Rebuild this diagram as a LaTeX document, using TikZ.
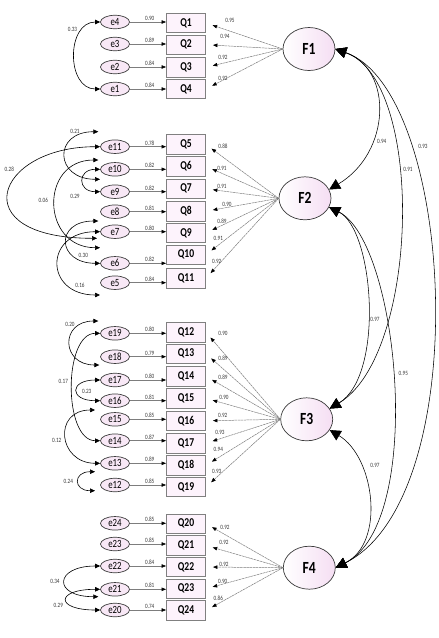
\documentclass[tikz,border=0pt]{standalone}
\usepackage{fontspec}
\setmainfont{Carlito}[FakeStretch=0.8]
\usetikzlibrary{arrows.meta,shapes.geometric}
\definecolor{pinkfill}{RGB}{248,232,246}
\definecolor{pinkdeep}{RGB}{245,222,243}
\definecolor{boxfill}{RGB}{253,243,252}
\definecolor{edgec}{RGB}{60,60,60}
\definecolor{lgray}{RGB}{125,125,125}
\definecolor{numc}{RGB}{55,55,55}
\begin{document}
\begin{tikzpicture}[x=1pt,y=-1pt,
  err/.style={ellipse,draw=edgec,line width=0.7pt,fill=pinkfill,minimum width=29pt,minimum height=13.5pt,inner sep=0pt,font=\fontsize{11}{11}\selectfont},
  item/.style={rectangle,draw=gray,line width=0.9pt,fill=boxfill,minimum width=39pt,minimum height=19.5pt,inner sep=0pt,font=\bfseries\fontsize{12}{12}\selectfont},
  fac/.style={ellipse,draw=edgec,line width=0.7pt,left color=white,right color=pinkdeep,minimum width=52pt,minimum height=43pt,inner sep=0pt,font=\bfseries\fontsize{17}{17}\selectfont},
  num/.style={font=\fontsize{6.5}{6.5}\selectfont,text=numc,inner sep=0.5pt},
  ebar/.style={draw=lgray,line width=0.55pt,-{Triangle[length=4.5pt,width=3.5pt,color=black]}},
  load/.style={draw=lgray,line width=0.5pt,dash pattern=on 2.5pt off 0.6pt,-{Triangle[length=4.5pt,width=3.5pt,color=black]},shorten >=7pt},
  cov/.style={draw=black,line width=0.6pt,{Triangle[length=5pt,width=4.5pt]}-{Triangle[length=5pt,width=4.5pt]}},
  fcov/.style={draw=black,line width=0.55pt,{Triangle[length=11pt,width=11pt]}-{Triangle[length=11pt,width=11pt]}},
]
\useasboundingbox (0,0) rectangle (439,638);
\fill[white] (0,0) rectangle (439,638);

% factors
\node[fac] (F1) at (309,49) {F1};
\node[fac] (F2) at (305,198.3) {F2};
\node[fac] (F3) at (306.7,419.3) {F3};
\node[fac] (F4) at (309.3,567.7) {F4};

% items
\foreach \n/\y in {1/23,2/44.7,3/67.3,4/89,
  5/144.5,6/166.3,7/188.8,8/211.2,9/233,10/254.7,11/278.3,
  12/332.2,13/353.8,14/376.3,15/398.3,16/420.8,17/443.3,18/465.3,19/487,
  20/523.7,21/545.5,22/567,23/588.7,24/610.5}
  \node[item] (Q\n) at (186,\y) {Q\n};

% errors
\foreach \n/\y in {4/22,3/44,2/67,1/89,
  11/146.7,10/169.3,9/191.7,8/211.7,7/231.7,6/263.3,5/282.7,
  19/333.3,18/356.7,17/380,16/400.7,15/419.3,14/440.7,13/463.3,12/485,
  24/523.3,23/544,22/566,21/589.3,20/610}
  \node[err] (e\n) at (115,\y) {e\n};

% error -> item
\foreach \e/\q/\v in {4/1/0.90,3/2/0.89,2/3/0.84,1/4/0.84,
  11/5/0.78,10/6/0.82,9/7/0.82,8/8/0.81,7/9/0.80,6/10/0.82,5/11/0.84,
  19/12/0.80,18/13/0.79,17/14/0.80,16/15/0.81,15/16/0.85,14/17/0.87,13/18/0.89,12/19/0.85,
  24/20/0.85,23/21/0.85,22/22/0.84,21/23/0.81,20/24/0.74}
  \draw[ebar] (e\e.east) -- node[num,pos=0.55,above=0.6pt] {\v} (e\e.east -| Q\q.west);

% loadings
\foreach \q in {1,...,4} \draw[load] (F1.west) -- (Q\q.east);
\foreach \q in {5,...,11} \draw[load] (F2.west) -- (Q\q.east);
\foreach \q in {12,...,19} \draw[load] (F3.west) -- (Q\q.east);
\foreach \q in {20,...,24} \draw[load] (F4.west) -- (Q\q.east);

\foreach \v/\x/\y in {0.95/230/20,0.94/225/36,0.92/223/57,0.92/223/78,
  0.88/223/146,0.91/222/168.3,0.91/222/186.7,0.90/227/204.3,0.89/222/221.7,0.91/218.3/238.3,0.92/216.7/261.7,
  0.90/223/333,0.89/223/358,0.89/223/377,0.90/224/397.7,0.92/222.7/415,0.93/220/432.3,0.94/218.3/449.3,0.93/216.7/471.7,
  0.92/225/527.3,0.92/224/542.3,0.92/224/564,0.90/222.7/581,0.86/218.3/598.3}
  \node[num] at (\x,\y) {\v};

% free ends of error covariances
\coordinate (c21a) at (98.3,131.7);
\coordinate (c21b) at (100,179.3);
\coordinate (c28b) at (97,238.3);
\coordinate (c06a) at (98.3,160);
\coordinate (c06b) at (100,247.7);
\coordinate (c30a) at (98.3,221);
\coordinate (c16b) at (100,295);
\coordinate (c20a) at (98.3,321);
\coordinate (c20b) at (99.3,365);
\coordinate (c12a) at (95,410);
\coordinate (c24a) at (95,471.7);
\coordinate (c24b) at (95,490.7);
\coordinate (c34b) at (98.3,596.7);

% error covariances
\draw[cov] (e4.west) .. controls +(-34,0) and +(-34,0) .. (e1.west);
\node[num] at (72.5,29) {0.33};

\draw[cov] (c21a) .. controls +(-45.5,0) and +(-45.5,0) .. (c21b);
\node[num] at (75,131.7) {0.21};
\draw[cov] (e11.west) .. controls +(-105,0) and +(-135,0) .. (c28b);
\node[num] at (9.3,169.3) {0.28};
\draw[cov] (e10.west) .. controls +(-23,0) and +(-23,0) .. (e9.west);
\node[num] at (75,196.7) {0.29};
\draw[cov] (c06a) .. controls +(-59,0) and +(-59,0) .. (c06b);
\node[num] at (43.3,200.7) {0.06};
\draw[cov] (c30a) .. controls +(-43.6,0) and +(-43.6,0) .. (e6.west);
\node[num] at (83.3,255) {0.30};
\draw[cov] (e7.west) .. controls +(-56,0) and +(-56,0) .. (c16b);
\node[num] at (80,285) {0.16};

\draw[cov] (c20a) .. controls +(-38.4,0) and +(-38.4,0) .. (c20b);
\node[num] at (70,324.3) {0.20};
\draw[cov] (e19.west) .. controls +(-37,0) and +(-37,0) .. (e14.west);
\node[num] at (63.3,381) {0.17};
\draw[cov] (e17.west) .. controls +(-31,0) and +(-31,0) .. (e16.west);
\node[num] at (86.7,391) {0.23};
\draw[cov] (c12a) .. controls +(-42.3,0) and +(-42.3,0) .. (e13.west);
\node[num] at (56.7,440) {0.12};
\draw[cov] (c24a) .. controls +(-22,0) and +(-22,0) .. (c24b);
\node[num] at (68.3,481.7) {0.24};

\draw[cov] (e22.west) .. controls +(-45.9,0) and +(-45.9,0) .. (c34b);
\node[num] at (55,581.7) {0.34};
\draw[cov] (e21.west) .. controls +(-45,0) and +(-45,0) .. (e20.west);
\node[num] at (58.3,605) {0.29};

% factor covariances
\draw[fcov] (F1.east) .. controls +(58,20.3) and +(62,-37) .. (F2.20);
\draw[fcov] (F1.east) .. controls +(90,31.5) and +(90,-54) .. (F3.25);
\draw[fcov] (F1.east) .. controls +(120,42) and +(140,-70) .. (F4.east);
\draw[fcov] (F2.-20) .. controls +(45,22.5) and +(55,-33) .. (F3.25);
\draw[fcov] (F2.-20) .. controls +(70,35) and +(90,-45) .. (F4.east);
\draw[fcov] (F3.-25) .. controls +(45,27) and +(50,-25) .. (F4.east);
\node[num] at (381.7,141.7) {0.94};
\node[num] at (408,169.3) {0.91};
\node[num] at (423,146.7) {0.93};
\node[num] at (375,319.3) {0.97};
\node[num] at (403.3,373.3) {0.95};
\node[num] at (375,465.7) {0.97};
\end{tikzpicture}
\end{document}
